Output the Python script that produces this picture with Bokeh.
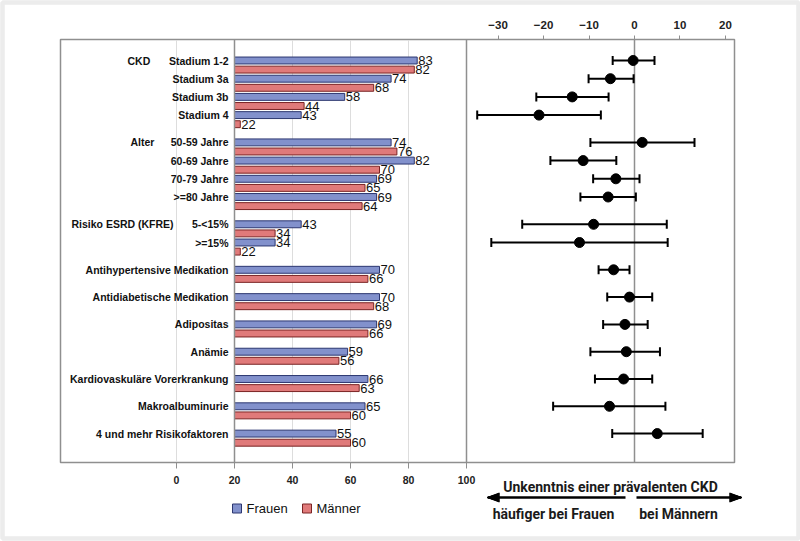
from bokeh.plotting import figure
from bokeh.models import Range1d, LinearAxis, FixedTicker, Span, ColumnDataSource
from bokeh.core.properties import value
from bokeh.embed import file_html
from bokeh.resources import INLINE

# ---------------- data ----------------
group_names = ["CKD", "Alter", "Risiko ESRD (KFRE)"]
row_labels = ["Stadium 1-2", "Stadium 3a", "Stadium 3b", "Stadium 4",
              "50-59 Jahre", "60-69 Jahre", "70-79 Jahre", ">=80 Jahre",
              "5-<15%", ">=15%",
              "Antihypertensive Medikation", "Antidiabetische Medikation",
              "Adipositas", "Anämie", "Kardiovaskuläre Vorerkrankung",
              "Makroalbuminurie", "4 und mehr Risikofaktoren"]
group_id = [0, 0, 0, 0, 1, 1, 1, 1, 2, 2, 3, 4, 5, 6, 7, 8, 9]
frauen = [83, 74, 58, 43, 74, 82, 69, 69, 43, 34, 70, 70, 69, 59, 66, 65, 55]
maenner = [82, 68, 44, 22, 76, 70, 65, 64, 34, 22, 66, 68, 66, 56, 63, 60, 60]
diff = [-0.3, -5.3, -13.7, -21.0, 1.7, -11.3, -4.1, -5.8, -9.0, -12.1,
        -4.6, -1.1, -2.1, -1.8, -2.4, -5.5, 5.0]
ci_lo = [-4.8, -10.1, -21.6, -34.6, -9.7, -18.5, -9.1, -11.9, -24.7, -31.5,
         -7.9, -6.0, -6.9, -9.7, -8.7, -17.9, -4.9]
ci_hi = [4.4, -0.2, -5.7, -7.4, 13.2, -4.0, 1.1, 0.3, 7.1, 7.3,
         -1.1, 3.9, 2.9, 5.6, 3.9, 6.8, 15.0]
series_names = ["Frauen", "Männer"]
bar_ticks = [0, 20, 40, 60, 80, 100]
diff_ticks = [-30, -20, -10, 0, 10, 20]
bar_base = 20
note_title = "Unkenntnis einer prävalenten CKD"
note_left = "häufiger bei Frauen"
note_right = "bei Männern"

# ---------------- layout (page px) ----------------
W, H = 800, 541
FL, FM, FR, FT, FB = 60, 466, 734, 39, 462     # frame edges
bar0_px, bar_ppu = 176.0, 2.9
dif0_px, dif_ppu = 634.0, 4.546
row0_px, row_ppu = 60.0, 18.2
GROUP_GAP = 0.5

rows = [i + GROUP_GAP * g for i, g in enumerate(group_id)]
rows_m = [r + 0.5 for r in rows]


def bx(px):
    return (px - bar0_px) / bar_ppu


def dx(px):
    return (px - dif0_px) / dif_ppu


def ry(px):
    return (px - row0_px) / row_ppu


FONT = "Liberation Sans"
GRAY = "#8f8f8f"
TXT = "#111111"
BLUE, BLUE_L = "#8291cc", "#2c3770"
RED, RED_L = "#e07a7a", "#7a2424"

src = ColumnDataSource(dict(row=rows, row_m=rows_m, fr=frauen, ma=maenner,
                            frt=[str(v) for v in frauen], mat=[str(v) for v in maenner],
                            lab=row_labels, diff=diff, lo=ci_lo, hi=ci_hi))

p = figure(width=W, height=H, output_backend="svg", toolbar_location=None,
           x_range=Range1d(bx(FL), bx(FR)), y_range=Range1d(ry(FB), ry(FT)),
           y_axis_location=None, x_axis_location="below",
           min_border_left=FL, min_border_right=W - FR,
           min_border_top=FT, min_border_bottom=H - FB)
p.extra_x_ranges = {"diff": Range1d(dx(FL), dx(FR))}
p.outline_line_color = GRAY
p.outline_line_width = 1.5
p.ygrid.visible = False

ax = p.xaxis[0]
ax.ticker = FixedTicker(ticks=bar_ticks)
ax.axis_line_color = GRAY
ax.major_tick_line_color = GRAY
ax.major_tick_out = 6
ax.major_tick_in = 0
ax.minor_tick_line_color = None
ax.major_label_standoff = 7
ax.major_label_text_font = FONT
ax.major_label_text_font_style = "bold"
ax.major_label_text_font_size = "10.5px"
ax.major_label_text_color = "#222222"

p.xgrid.ticker = FixedTicker(ticks=[0, 40, 60, 80])
p.xgrid.grid_line_color = "#dddddd"
p.xgrid.grid_line_width = 1

tax = LinearAxis(x_range_name="diff", ticker=FixedTicker(ticks=diff_ticks))
tax.axis_line_color = GRAY
tax.major_tick_line_color = GRAY
tax.major_tick_out = 4
tax.major_tick_in = 0
tax.minor_tick_line_color = None
tax.major_label_standoff = 7
tax.major_label_text_font = FONT
tax.major_label_text_font_style = "bold"
tax.major_label_text_font_size = "11.5px"
tax.major_label_text_color = "#222222"
p.add_layout(tax, "above")

p.add_layout(Span(location=bar_base, dimension="height", line_color=GRAY, line_width=1.5))
p.add_layout(Span(location=100, dimension="height", line_color=GRAY, line_width=1.5))
p.segment(x0=[0], x1=[0], y0=[ry(FB)], y1=[ry(FT)], x_range_name="diff",
          line_color=GRAY, line_width=1.5)

# bars
rf = p.hbar(y="row", left=bar_base, right="fr", height=0.38, source=src,
            fill_color=BLUE, line_color=BLUE_L, line_width=1)
rm = p.hbar(y="row_m", left=bar_base, right="ma", height=0.38, source=src,
            fill_color=RED, line_color=RED_L, line_width=1)
p.text(x="fr", y="row", text="frt", source=src, x_offset=1,
       text_baseline="middle", text_align="left", text_font=value(FONT),
       text_font_size="13px", text_color=TXT)
p.text(x="ma", y="row_m", text="mat", source=src, x_offset=1,
       text_baseline="middle", text_align="left", text_font=value(FONT),
       text_font_size="13px", text_color=TXT)

# row labels
p.text(x=bar_base, y="row", text="lab", source=src, x_offset=-6,
       text_baseline="middle", text_align="right", text_font=value(FONT),
       text_font_style="bold", text_font_size="10.5px", text_color=TXT)
group_label_px = [127, 130, 71]
first_rows = [rows[group_id.index(g)] for g in range(len(group_names))]
p.text(x=[bx(v) for v in group_label_px], y=first_rows,
       text=group_names, text_baseline="middle", text_align="left",
       text_font=value(FONT), text_font_style="bold", text_font_size="10.5px",
       text_color=TXT)

# forest plot
p.segment(x0="lo", x1="hi", y0="row", y1="row", source=src, x_range_name="diff",
          line_color="black", line_width=2)
p.rect(x="lo", y="row", width=2, height=9, width_units="screen", height_units="screen",
       source=src, x_range_name="diff", fill_color="black", line_color=None)
p.rect(x="hi", y="row", width=2, height=9, width_units="screen", height_units="screen",
       source=src, x_range_name="diff", fill_color="black", line_color=None)
p.scatter(x="diff", y="row", source=src, x_range_name="diff", size=10,
          fill_color="black", line_color="black")

# ---- content below the frame (overlay level) ----
p.rect(x=[bx(236.5), bx(306.5)], y=[ry(508)] * 2, width=9, height=9,
       width_units="screen", height_units="screen",
       fill_color=[BLUE, RED], line_color=[BLUE_L, RED_L], line_width=1, level="overlay")
p.text(x=[bx(246), bx(316)], y=[ry(508)] * 2, text=series_names,
       text_baseline="middle", text_align="left", text_font=value(FONT),
       text_font_size="13px", text_color=TXT, level="overlay")

AF = "Roboto"
p.text(x=[dx(610), dx(553), dx(678)], y=[ry(486), ry(513), ry(513)],
       text=[note_title, note_left, note_right], x_range_name="diff",
       text_baseline="middle", text_align="center", text_font=value(AF),
       text_font_style="bold", text_font_size="14px", text_color="#1a1a1a",
       level="overlay")

# arrows: shafts plus filled heads (fan of short segments)
ay = 497
p.segment(x0=[dx(625), dx(636)], x1=[dx(497), dx(731)], y0=[ry(ay)] * 2, y1=[ry(ay)] * 2,
          x_range_name="diff", line_color="black", line_width=2.5, level="overlay")
fan = [k * 0.5 for k in range(-9, 10)]           # px offsets across the head base
hx0, hx1, hy0, hy1 = [], [], [], []
for tip, base in [(487, 499), (741, 729)]:
    for off in fan:
        hx0.append(dx(tip))
        hy0.append(ry(ay))
        hx1.append(dx(base))
        hy1.append(ry(ay + off))
p.segment(x0=hx0, y0=hy0, x1=hx1, y1=hy1, x_range_name="diff",
          line_color="black", line_width=1.2, level="overlay")

# light page border
p.quad(left=[bx(2)], right=[bx(W - 2)], top=[ry(2)], bottom=[ry(H - 3)],
       fill_color=None, line_color="#ececec", line_width=4.5, level="overlay")

open("out.html", "w").write(file_html(p, INLINE))
